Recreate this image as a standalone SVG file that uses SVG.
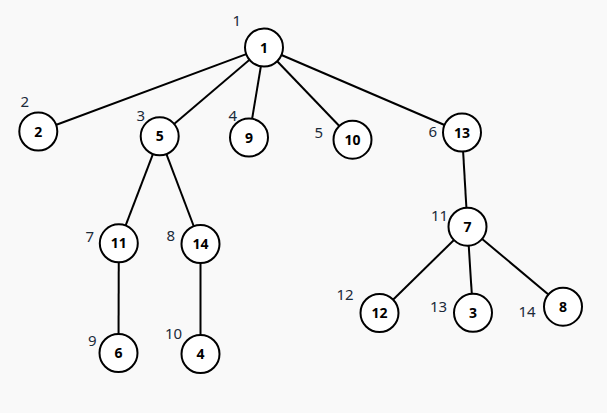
<svg xmlns="http://www.w3.org/2000/svg" width="607" height="413" viewBox="0 0 607 413">
<style>
.bg{fill:#f9f9f9}
.edge{stroke:#000;stroke-width:2;fill:none}
.node circle{fill:#fff;stroke:#000;stroke-width:2}
.node text.v{font-family:"Noto Sans","Open Sans",sans-serif;font-weight:bold;font-size:14px;text-anchor:middle;fill:#000}
.node text.o{font-family:"Noto Sans","Open Sans",sans-serif;font-size:15px;fill:#1a2a3a}
</style>
<rect class="bg" x="0" y="0" width="607" height="413"/>
<g id="connectors">
<line class="edge" x1="264" y1="47.5" x2="38.3" y2="131.5"/>
<line class="edge" x1="264" y1="47.5" x2="159.7" y2="136.3"/>
<line class="edge" x1="264" y1="47.5" x2="249" y2="137.5"/>
<line class="edge" x1="264" y1="47.5" x2="352.5" y2="139.7"/>
<line class="edge" x1="264" y1="47.5" x2="462" y2="132.5"/>
<line class="edge" x1="159.7" y1="136.3" x2="118.8" y2="243.3"/>
<line class="edge" x1="159.7" y1="136.3" x2="200.5" y2="244"/>
<line class="edge" x1="118.8" y1="243.3" x2="118.5" y2="353"/>
<line class="edge" x1="200.5" y1="244" x2="200.5" y2="354"/>
<line class="edge" x1="462" y1="132.5" x2="467.5" y2="226.7"/>
<line class="edge" x1="467.5" y1="226.7" x2="379.5" y2="313"/>
<line class="edge" x1="467.5" y1="226.7" x2="473" y2="312.8"/>
<line class="edge" x1="467.5" y1="226.7" x2="563" y2="306.7"/>
</g>
<g id="node1" class="node"><circle cx="264" cy="47.5" r="19"/><text class="v" x="264" y="52.5">1</text><text class="o" x="232.5" y="26">1</text></g>
<g id="node2" class="node"><circle cx="38.3" cy="131.5" r="19"/><text class="v" x="38.3" y="136.5">2</text><text class="o" x="20.5" y="107">2</text></g>
<g id="node5" class="node"><circle cx="159.7" cy="136.3" r="19"/><text class="v" x="159.7" y="141.3">5</text><text class="o" x="136.5" y="121">3</text></g>
<g id="node9" class="node"><circle cx="249" cy="137.5" r="19"/><text class="v" x="249" y="142.5">9</text><text class="o" x="228.5" y="121">4</text></g>
<g id="node10" class="node"><circle cx="352.5" cy="139.7" r="19"/><text class="v" x="352.5" y="144.7">10</text><text class="o" x="314.5" y="137.5">5</text></g>
<g id="node13" class="node"><circle cx="462" cy="132.5" r="19"/><text class="v" x="462" y="137.5">13</text><text class="o" x="428.5" y="137">6</text></g>
<g id="node11" class="node"><circle cx="118.8" cy="243.3" r="19"/><text class="v" x="118.8" y="248.3">11</text><text class="o" x="85.5" y="242">7</text></g>
<g id="node14" class="node"><circle cx="200.5" cy="244" r="19"/><text class="v" x="200.5" y="249">14</text><text class="o" x="166.5" y="240.5">8</text></g>
<g id="node6" class="node"><circle cx="118.5" cy="353" r="19"/><text class="v" x="118.5" y="358">6</text><text class="o" x="88" y="346">9</text></g>
<g id="node4" class="node"><circle cx="200.5" cy="354" r="19"/><text class="v" x="200.5" y="359">4</text><text class="o" x="165" y="338.5">10</text></g>
<g id="node7" class="node"><circle cx="467.5" cy="226.7" r="19"/><text class="v" x="467.5" y="231.7">7</text><text class="o" x="431" y="220.5">11</text></g>
<g id="node12" class="node"><circle cx="379.5" cy="313" r="19"/><text class="v" x="379.5" y="318">12</text><text class="o" x="336.5" y="299.5">12</text></g>
<g id="node3" class="node"><circle cx="473" cy="312.8" r="19"/><text class="v" x="473" y="317.8">3</text><text class="o" x="430" y="311.5">13</text></g>
<g id="node8" class="node"><circle cx="563" cy="306.7" r="19"/><text class="v" x="563" y="311.7">8</text><text class="o" x="518.5" y="317">14</text></g>
</svg>
